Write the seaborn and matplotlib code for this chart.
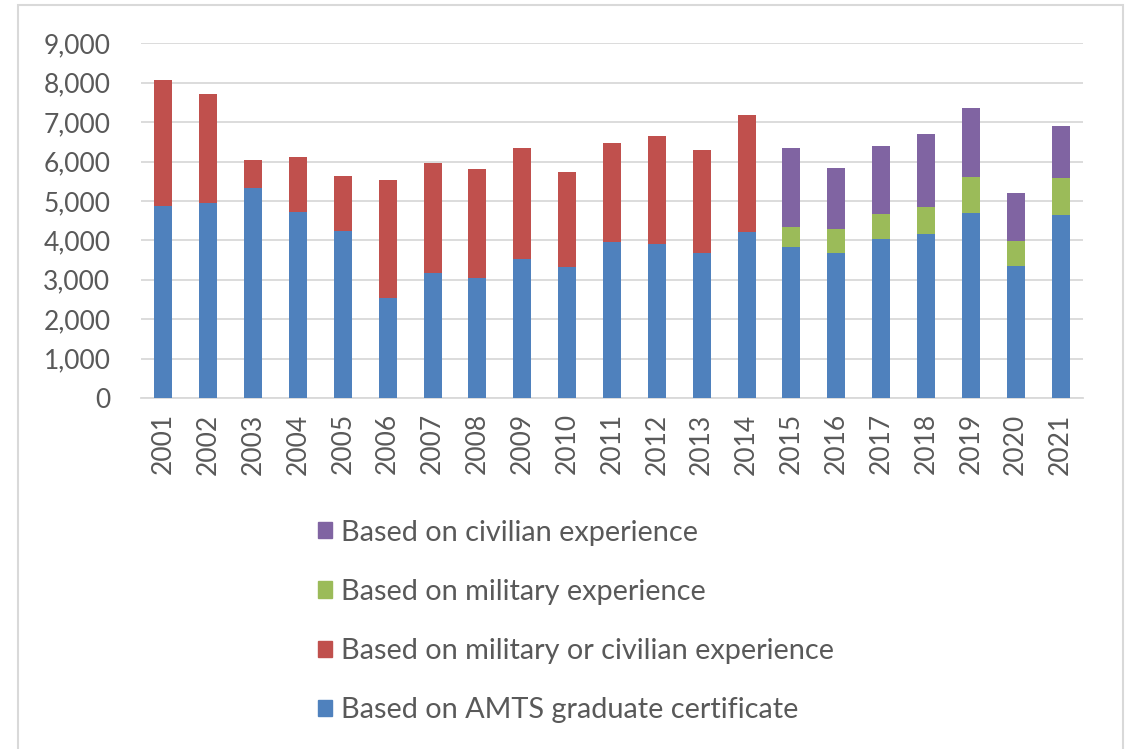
import pandas as pd
import matplotlib
matplotlib.use("Agg")
import matplotlib.pyplot as plt
import matplotlib.patches as mpatches
import seaborn as sns

# values
years = [str(y) for y in range(2001, 2022)]
amts_cert = [4870, 4945, 5334, 4725, 4234, 2532, 3167, 3040, 3539, 3328, 3946,
             3920, 3692, 4217, 3819, 3675, 4022, 4166, 4699, 3362, 4649]
mil_or_civ = [3200, 2769, 712, 1380, 1405, 3006, 2803, 2777, 2795, 2396, 2532,
              2718, 2599, 2972, 0, 0, 0, 0, 0, 0, 0]
military = [0] * 14 + [525, 601, 635, 686, 915, 626, 940]
civilian = [0] * 14 + [2007, 1566, 1727, 1846, 1736, 1203, 1320]

labels = ["Based on AMTS graduate certificate",
          "Based on military or civilian experience",
          "Based on military experience",
          "Based on civilian experience"]
colors = ["#4F81BD", "#C0504D", "#9BBB59", "#8064A2"]

df = pd.DataFrame({"year": years, "blue": amts_cert, "red": mil_or_civ,
                   "green": military, "purple": civilian})
# cumulative heights, drawn back to front
df["c1"] = df["blue"]
df["c2"] = df["c1"] + df["red"]
df["c3"] = df["c2"] + df["green"]
df["c4"] = df["c3"] + df["purple"]

sns.set_style("white")
plt.rcParams["font.family"] = ["Lato", "DejaVu Sans"]
txt = "#595959"
grid = "#D9D9D9"

fig = plt.figure(figsize=(11.35, 7.49), dpi=100)
ax = fig.add_axes([0.1242, 0.4686, 0.830, 0.4736])

for col, c in zip(["c4", "c3", "c2", "c1"], colors[::-1]):
    sns.barplot(data=df, x="year", y=col, color=c, saturation=1, width=0.4,
                errorbar=None, linewidth=0, ax=ax, zorder=3)

ax.set_xlim(-0.5, 20.5)
ax.set_ylim(0, 9000)
ax.set_yticks(range(0, 9001, 1000))
ax.set_yticklabels([f"{v:,}" for v in range(0, 9001, 1000)])
ax.set_xlabel("")
ax.set_ylabel("")
ax.yaxis.grid(True, color=grid, lw=1.3, zorder=0)
ax.set_axisbelow(True)
for s in ["top", "right", "left"]:
    ax.spines[s].set_visible(False)
ax.spines["bottom"].set_color(grid)
ax.spines["bottom"].set_linewidth(1.3)
ax.tick_params(axis="y", length=0, pad=22, labelsize=19, labelcolor=txt)
ax.tick_params(axis="x", length=0, pad=11, labelsize=19, labelcolor=txt,
               rotation=90)

handles = [mpatches.Patch(color=c, label=l) for c, l in zip(colors, labels)][::-1]
fig.legend(handles=handles, loc="upper left", bbox_to_anchor=(0.2802, 0.3063),
           frameon=False, fontsize=20.8, labelcolor=txt, handlelength=0.48,
           handleheight=0.48, handletextpad=0.3, labelspacing=1.15,
           borderaxespad=0, borderpad=0)

fig.patches.append(mpatches.Rectangle((18 / 1135, -0.02), (1123 - 18) / 1135,
                                      1.02 - 5 / 749, transform=fig.transFigure,
                                      fill=False, edgecolor=grid, lw=1.5))

fig.savefig("out.png", dpi=100)
